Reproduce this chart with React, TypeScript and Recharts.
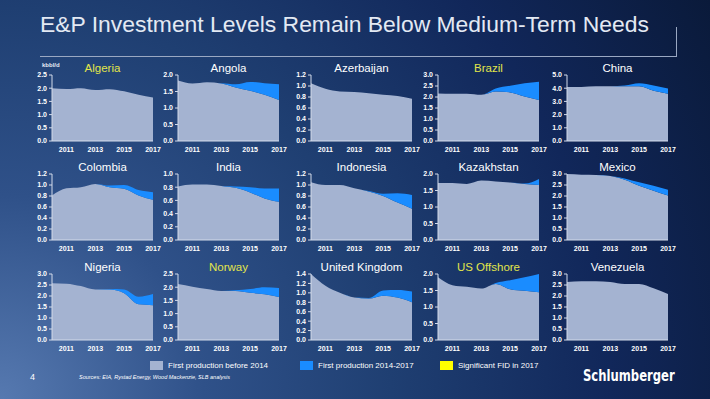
import React from 'react';
import { AreaChart, Area, XAxis, YAxis } from 'recharts';

// kbbl/d, 2010..2017
const YEARS = [2010, 2011, 2012, 2013, 2014, 2015, 2016, 2017];
const X_TICKS = [2011, 2013, 2015, 2017];

const ALGERIA_BASE = [2.0, 1.97, 2.0, 1.93, 1.96, 1.88, 1.75, 1.65];
const ALGERIA_NEW = [0, 0, 0, 0, 0, 0, 0, 0];
const ANGOLA_BASE = [1.83, 1.74, 1.78, 1.74, 1.62, 1.52, 1.4, 1.24];
const ANGOLA_NEW = [0, 0, 0, 0.01, 0.1, 0.27, 0.35, 0.48];
const AZERBAIJAN_BASE = [1.05, 0.95, 0.9, 0.89, 0.87, 0.84, 0.82, 0.77];
const AZERBAIJAN_NEW = [0, 0, 0, 0, 0, 0, 0, 0];
const BRAZIL_BASE = [2.16, 2.15, 2.15, 2.1, 2.25, 2.21, 2.02, 1.86];
const BRAZIL_NEW = [0, 0, 0, 0, 0.14, 0.3, 0.6, 0.83];
const CHINA_BASE = [4.09, 4.09, 4.14, 4.15, 4.14, 4.14, 3.8, 3.58];
const CHINA_NEW = [0, 0, 0, 0, 0.06, 0.23, 0.4, 0.4];

const COLOMBIA_BASE = [0.81, 0.94, 0.96, 1.02, 0.96, 0.93, 0.81, 0.73];
const COLOMBIA_NEW = [0, 0, 0, 0, 0.03, 0.07, 0.1, 0.14];
const INDIA_BASE = [0.81, 0.84, 0.84, 0.82, 0.79, 0.72, 0.63, 0.58];
const INDIA_NEW = [0, 0, 0, 0, 0.02, 0.08, 0.15, 0.2];
const INDONESIA_BASE = [1.05, 1.0, 1.0, 0.94, 0.88, 0.8, 0.68, 0.57];
const INDONESIA_NEW = [0, 0, 0, 0, 0.01, 0.04, 0.17, 0.25];
const KAZAKHSTAN_BASE = [1.73, 1.73, 1.7, 1.8, 1.77, 1.74, 1.7, 1.67];
const KAZAKHSTAN_NEW = [0, 0, 0, 0, 0, 0, 0.01, 0.18];
const MEXICO_BASE = [3.0, 2.97, 2.96, 2.91, 2.74, 2.47, 2.24, 2.02];
const MEXICO_NEW = [0, 0, 0, 0, 0.06, 0.15, 0.23, 0.26];

const NIGERIA_BASE = [2.58, 2.56, 2.45, 2.29, 2.29, 2.12, 1.62, 1.58];
const NIGERIA_NEW = [0, 0, 0, 0, 0.03, 0.18, 0.35, 0.51];
const NORWAY_BASE = [2.12, 2.02, 1.93, 1.86, 1.86, 1.79, 1.73, 1.63];
const NORWAY_NEW = [0, 0, 0, 0, 0.02, 0.14, 0.27, 0.34];
const UK_BASE = [1.4, 1.15, 1.0, 0.9, 0.88, 0.94, 0.9, 0.8];
const UK_NEW = [0, 0, 0, 0, 0.01, 0.11, 0.16, 0.23];
const US_OFFSHORE_BASE = [1.9, 1.66, 1.61, 1.56, 1.7, 1.54, 1.49, 1.45];
const US_OFFSHORE_NEW = [0, 0, 0, 0, 0.03, 0.27, 0.41, 0.55];
const VENEZUELA_BASE = [2.64, 2.67, 2.67, 2.64, 2.55, 2.55, 2.35, 2.09];
const VENEZUELA_NEW = [0, 0, 0, 0, 0, 0, 0, 0];

const COUNTRIES = [
  { name: 'Algeria', base: ALGERIA_BASE, added: ALGERIA_NEW, max: 2.5, step: 0.5, fid: true },
  { name: 'Angola', base: ANGOLA_BASE, added: ANGOLA_NEW, max: 2.0, step: 0.5, fid: false },
  { name: 'Azerbaijan', base: AZERBAIJAN_BASE, added: AZERBAIJAN_NEW, max: 1.2, step: 0.2, fid: false },
  { name: 'Brazil', base: BRAZIL_BASE, added: BRAZIL_NEW, max: 3.0, step: 0.5, fid: true },
  { name: 'China', base: CHINA_BASE, added: CHINA_NEW, max: 5.0, step: 1.0, fid: false },
  { name: 'Colombia', base: COLOMBIA_BASE, added: COLOMBIA_NEW, max: 1.2, step: 0.2, fid: false },
  { name: 'India', base: INDIA_BASE, added: INDIA_NEW, max: 1.0, step: 0.2, fid: false },
  { name: 'Indonesia', base: INDONESIA_BASE, added: INDONESIA_NEW, max: 1.2, step: 0.2, fid: false },
  { name: 'Kazakhstan', base: KAZAKHSTAN_BASE, added: KAZAKHSTAN_NEW, max: 2.0, step: 0.5, fid: false },
  { name: 'Mexico', base: MEXICO_BASE, added: MEXICO_NEW, max: 3.0, step: 0.5, fid: false },
  { name: 'Nigeria', base: NIGERIA_BASE, added: NIGERIA_NEW, max: 3.0, step: 0.5, fid: false },
  { name: 'Norway', base: NORWAY_BASE, added: NORWAY_NEW, max: 2.5, step: 0.5, fid: true },
  { name: 'United Kingdom', base: UK_BASE, added: UK_NEW, max: 1.4, step: 0.2, fid: false },
  { name: 'US Offshore', base: US_OFFSHORE_BASE, added: US_OFFSHORE_NEW, max: 2.0, step: 0.5, fid: true },
  { name: 'Venezuela', base: VENEZUELA_BASE, added: VENEZUELA_NEW, max: 3.0, step: 0.5, fid: false },
];

const COL_X = [52, 178, 311, 438, 567];
const ROW_Y = [75, 174, 274];
const PLOT_W = 101;
const PLOT_H = 66;
const Y_W = 24;
const M_TOP = 4;
const M_RIGHT = 12;
const X_H = 16;

const FONT = '"Liberation Sans", Arial, sans-serif';
const BASE_COLOR = '#a4b3d1';
const NEW_COLOR = '#1a8cff';
const FID_COLOR = '#ffff00';
const AXIS_COLOR = '#d3dbea';

const tickStyle = { fill: '#ffffff', fontSize: 7, fontWeight: 'bold', fontFamily: FONT };

type Country = (typeof COUNTRIES)[number];

const SmallChart = ({ c, left, top }: { c: Country; left: number; top: number }) => {
  const rows = YEARS.map((year, i) => ({ year, base: c.base[i], added: c.added[i] }));
  const yTicks = Array.from({ length: Math.round(c.max / c.step) + 1 }, (_, i) => +(i * c.step).toFixed(1));
  return (
    <>
      <div
        style={{
          position: 'absolute',
          left,
          top: top - 13,
          width: PLOT_W,
          textAlign: 'center',
          fontSize: 11.5,
          lineHeight: '13px',
          color: c.fid ? '#e2e54a' : '#ffffff',
        }}
      >
        {c.name}
      </div>
      <div style={{ position: 'absolute', left: left - Y_W, top: top - M_TOP }}>
        <AreaChart
          width={Y_W + PLOT_W + M_RIGHT}
          height={M_TOP + PLOT_H + X_H}
          data={rows}
          margin={{ top: M_TOP, right: M_RIGHT, left: 0, bottom: 0 }}
        >
          <XAxis
            dataKey="year"
            type="number"
            domain={[2010, 2017]}
            ticks={X_TICKS}
            interval={0}
            height={X_H}
            tickLine={false}
            tickSize={4}
            axisLine={{ stroke: AXIS_COLOR }}
            tick={tickStyle}
          />
          <YAxis
            width={Y_W}
            domain={[0, c.max]}
            ticks={yTicks}
            interval={0}
            allowDataOverflow
            tickFormatter={(v: number) => v.toFixed(1)}
            tickSize={3}
            tickLine={{ stroke: AXIS_COLOR }}
            axisLine={{ stroke: AXIS_COLOR }}
            tick={tickStyle}
          />
          <Area
            type="monotone"
            dataKey="base"
            stackId="s"
            stroke="none"
            fill={BASE_COLOR}
            fillOpacity={1}
            isAnimationActive={false}
          />
          <Area
            type="monotone"
            dataKey="added"
            stackId="s"
            stroke="none"
            fill={NEW_COLOR}
            fillOpacity={1}
            isAnimationActive={false}
          />
        </AreaChart>
      </div>
    </>
  );
};

const LegendItem = ({ left, color, label }: { left: number; color: string; label: string }) => (
  <div style={{ position: 'absolute', left, top: 361, display: 'flex', alignItems: 'center' }}>
    <div style={{ width: 13, height: 9, background: color, marginRight: 5 }} />
    <span style={{ fontSize: 8, color: '#ffffff' }}>{label}</span>
  </div>
);

export default function App() {
  return (
    <div
      style={{
        position: 'absolute',
        left: 0,
        top: 0,
        width: 710,
        height: 399,
        overflow: 'hidden',
        fontFamily: FONT,
        background:
          'radial-gradient(circle farthest-corner at 0% 100%, #5679b0 0%, #2f5189 25%, #1f3f72 48%, #11275a 75%, #0a1a3a 100%)',
      }}
    >
      <div
        style={{
          position: 'absolute',
          left: 40,
          top: 11,
          fontSize: 22.9,
          color: '#e3e9f3',
          whiteSpace: 'nowrap',
        }}
      >
        E&amp;P Investment Levels Remain Below Medium-Term Needs
      </div>
      <div style={{ position: 'absolute', left: 40, top: 56, width: 636, height: 1, background: '#9aa8c2' }} />
      <div style={{ position: 'absolute', left: 676, top: 27, width: 1, height: 30, background: '#9aa8c2' }} />

      <div
        style={{ position: 'absolute', left: 42, top: 62, fontSize: 6, fontWeight: 'bold', color: '#e6ebf5' }}
      >
        kbbl/d
      </div>

      {COUNTRIES.map((c, i) => (
        <SmallChart key={c.name} c={c} left={COL_X[i % 5]} top={ROW_Y[Math.floor(i / 5)]} />
      ))}

      <LegendItem left={150} color={BASE_COLOR} label="First production before 2014" />
      <LegendItem left={300} color={NEW_COLOR} label="First production 2014-2017" />
      <LegendItem left={440} color={FID_COLOR} label="Significant FID in 2017" />

      <div style={{ position: 'absolute', left: 30, top: 372, fontSize: 9, color: '#ffffff' }}>4</div>
      <div
        style={{
          position: 'absolute',
          left: 79,
          top: 374,
          fontSize: 5.5,
          fontStyle: 'italic',
          color: '#ffffff',
          whiteSpace: 'nowrap',
        }}
      >
        Sources: EIA, Rystad Energy, Wood Mackenzie, SLB analysis
      </div>
      <div
        style={{
          position: 'absolute',
          left: 583,
          top: 367,
          fontSize: 15,
          fontWeight: 'bold',
          color: '#ffffff',
          fontFamily: '"DejaVu Sans Condensed", "Liberation Sans Narrow", sans-serif',
          whiteSpace: 'nowrap',
          transform: 'scaleX(0.86)',
          transformOrigin: 'left center',
        }}
      >
        Schlumberger
      </div>
    </div>
  );
}
